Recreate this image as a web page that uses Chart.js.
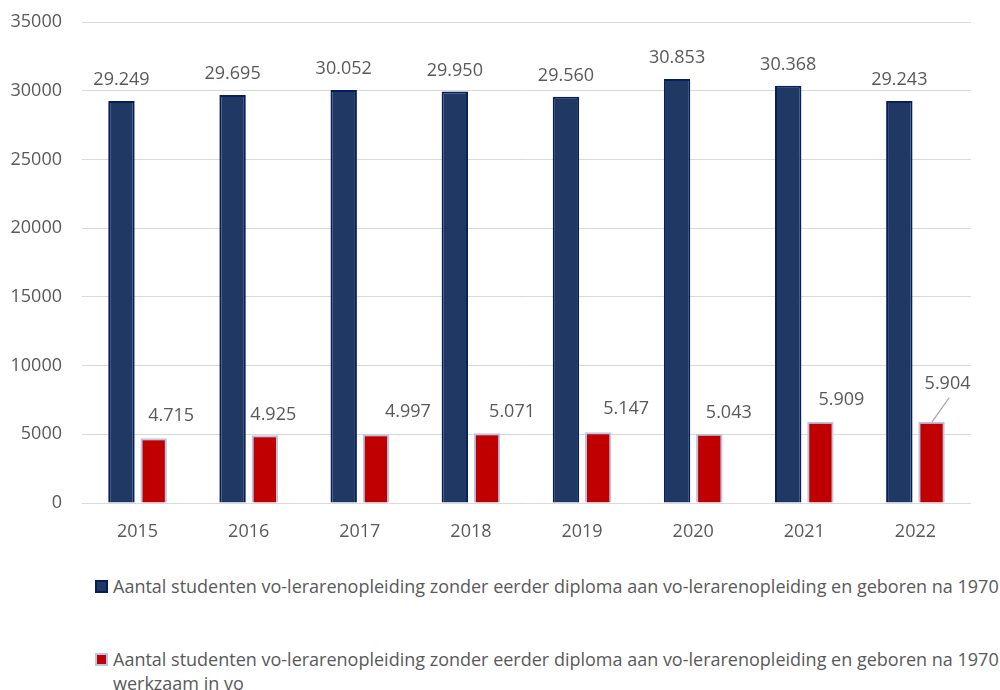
<!DOCTYPE html>
<html>
<head>
<meta charset="utf-8">
<script src="https://cdn.jsdelivr.net/npm/chart.js@4"></script>
<style>
  html, body { margin: 0; padding: 0; background: #fff; }
  #wrap { position: relative; width: 1000px; height: 690px; overflow: hidden; font-family: "Open Sans", sans-serif; }
  #c { position: absolute; left: 0; top: 0; }
  .leg { position: absolute; left: 95px; color: #595959; font-size: 18px; line-height: 24px; }
  .leg .sw { position: absolute; left: 0; width: 13px; height: 13px; box-sizing: border-box; }
  .leg .tx { position: absolute; left: 18px; width: 900px; white-space: nowrap; }
</style>
</head>
<body>
<div id="wrap">
  <canvas id="c" width="1000" height="560"></canvas>
  <div class="leg" id="leg1" style="top:574px;">
    <div class="sw" style="top:6px;background:#1F3864;border:2px solid #061F5C;"></div>
    <div class="tx" id="legt1"></div>
  </div>
  <div class="leg" id="leg2" style="top:647px;">
    <div class="sw" style="top:6px;background:#C00000;border:2px solid #B4C7E7;"></div>
    <div class="tx" id="legt2"></div>
  </div>
</div>
<script>
const categories = ['2015', '2016', '2017', '2018', '2019', '2020', '2021', '2022'];
const seriesTotal = [29249, 29695, 30052, 29950, 29560, 30853, 30368, 29243];
const seriesWorking = [4715, 4925, 4997, 5071, 5147, 5043, 5909, 5904];
const seriesNames = [
  'Aantal studenten vo-lerarenopleiding zonder eerder diploma aan vo-lerarenopleiding en geboren na 1970',
  'Aantal studenten vo-lerarenopleiding zonder eerder diploma aan vo-lerarenopleiding en geboren na 1970 werkzaam in vo'
];
const yTicks = [0, 5000, 10000, 15000, 20000, 25000, 30000, 35000];

document.getElementById('legt1').textContent = seriesNames[0];
document.getElementById('legt2').innerHTML = 'Aantal studenten vo-lerarenopleiding zonder eerder diploma aan vo-lerarenopleiding en geboren na 1970<br>werkzaam in vo';

// label placement tweaks (as placed in the original), per dataset
const labelShift = [
  { dx: [0,0,0,0,0,0,0,0], dy: [-21,-21,-21,-21,-21,-21,-21,-21] },
  { dx: [17.5,8.5,32,25,28,19.5,21,16], dy: [-22,-20,-22,-21,-23,-21,-22,-38] }
];

function fmt(v) {
  return String(v).replace(/\B(?=(\d{3})+(?!\d))/g, '.');
}

const labelPlugin = {
  id: 'barLabels',
  afterDatasetsDraw(chart) {
    const ctx = chart.ctx;
    ctx.save();
    ctx.font = '18px "Open Sans", sans-serif';
    ctx.fillStyle = '#595959';
    ctx.textAlign = 'center';
    ctx.textBaseline = 'middle';
    chart.data.datasets.forEach((ds, di) => {
      const meta = chart.getDatasetMeta(di);
      meta.data.forEach((bar, i) => {
        const lx = bar.x + labelShift[di].dx[i];
        const ly = bar.y + labelShift[di].dy[i];
        if (labelShift[di].dy[i] < -30) {
          ctx.strokeStyle = '#A6A6A6';
          ctx.lineWidth = 1.2;
          ctx.beginPath();
          ctx.moveTo(bar.x + 0.5, bar.y);
          ctx.lineTo(lx + 1.5, ly + 14);
          ctx.stroke();
        }
        ctx.fillText(fmt(ds.data[i]), lx, ly);
      });
    });
    ctx.restore();
  }
};

new Chart(document.getElementById('c'), {
  type: 'bar',
  data: {
    labels: categories,
    datasets: [
      {
        label: seriesNames[0],
        data: seriesTotal,
        backgroundColor: '#1F3864',
        borderColor: '#061F5C',
        borderWidth: 2,
        categoryPercentage: 0.58,
        barPercentage: 0.82
      },
      {
        label: seriesNames[1],
        data: seriesWorking,
        backgroundColor: '#C00000',
        borderColor: '#B4C7E7',
        borderWidth: 2,
        categoryPercentage: 0.58,
        barPercentage: 0.82
      }
    ]
  },
  options: {
    responsive: false,
    animation: false,
    layout: { padding: { top: 22, right: 29, left: 0, bottom: 0 } },
    plugins: {
      legend: { display: false },
      tooltip: { enabled: false }
    },
    scales: {
      x: {
        grid: { display: false, drawTicks: false },
        border: { display: false },
        ticks: {
          color: '#595959',
          font: { family: '"Open Sans", sans-serif', size: 18 },
          padding: 18,
          maxRotation: 0
        },
        afterFit(scale) { scale.height = 57; scale.paddingLeft = 0; scale.paddingRight = 0; }
      },
      y: {
        min: 0,
        max: 35000,
        afterBuildTicks(scale) { scale.ticks = yTicks.map(v => ({ value: v })); },
        grid: { color: '#D9D9D9', lineWidth: 1, drawTicks: false },
        border: { display: false },
        ticks: {
          color: '#595959',
          font: { family: '"Open Sans", sans-serif', size: 18 },
          padding: 20,
          callback: v => String(v)
        },
        afterFit(scale) { scale.width = 82; scale.paddingTop = 0; scale.paddingBottom = 0; }
      }
    }
  },
  plugins: [labelPlugin]
});
</script>
</body>
</html>
